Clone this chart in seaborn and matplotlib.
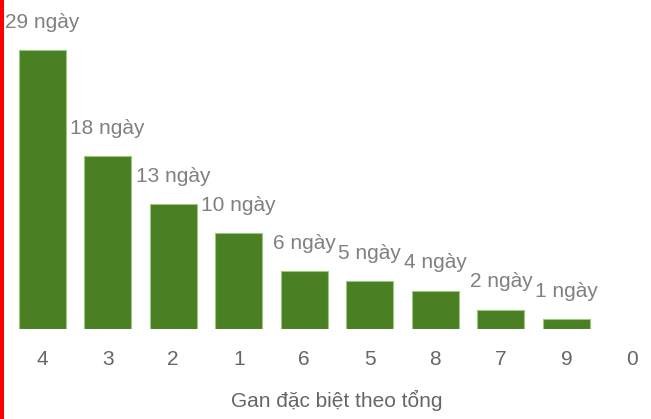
import matplotlib
matplotlib.use('Agg')
import matplotlib.pyplot as plt
import seaborn as sns
import pandas as pd
from matplotlib.patches import Rectangle

sns.set_theme(style='white')
plt.rcParams['font.family'] = ['Liberation Sans', 'DejaVu Sans']

# du lieu gan dac biet theo tong
tong = ['4', '3', '2', '1', '6', '5', '8', '7', '9', '0']
so_ngay = [29, 18, 13, 10, 6, 5, 4, 2, 1, 0]

df = pd.DataFrame({'tong': tong, 'ngay': so_ngay})

fig = plt.figure(figsize=(6.51, 4.19), dpi=100)
ax = fig.add_axes([0, 90 / 419, 1, 329 / 419])

sns.barplot(data=df, x='tong', y='ngay', order=tong, color='#4a7f23',
            width=0.717, saturation=1, edgecolor='#9cc77f', linewidth=0.8, ax=ax)
for p in ax.patches:
    if p.get_height() == 0:
        p.set_visible(False)

ax.set_xlim(-0.641, 9.289)
ax.set_ylim(0, 329 / 9.62)

# nhan so ngay tren cot
for i, v in enumerate(so_ngay):
    if v > 0:
        ax.annotate(f'{v} ngày', (i, v), xytext=(0, 20), textcoords='offset points',
                    ha='center', va='center', fontsize=15, color='#808080')

for s in ax.spines.values():
    s.set_visible(False)
ax.set_yticks([])
ax.tick_params(axis='x', length=0, pad=15, labelsize=15, labelcolor='#666666')
ax.set_xlabel('Gan đặc biệt theo tổng', fontsize=15, color='#666666', labelpad=15, x=0.518)
ax.set_ylabel('')

# vach do ben trai
fig.patches.append(Rectangle((0, 0), 4 / 651, 1, transform=fig.transFigure,
                             facecolor='#ff0000', edgecolor='none'))

fig.savefig('out.png', dpi=100)
plt.close()
